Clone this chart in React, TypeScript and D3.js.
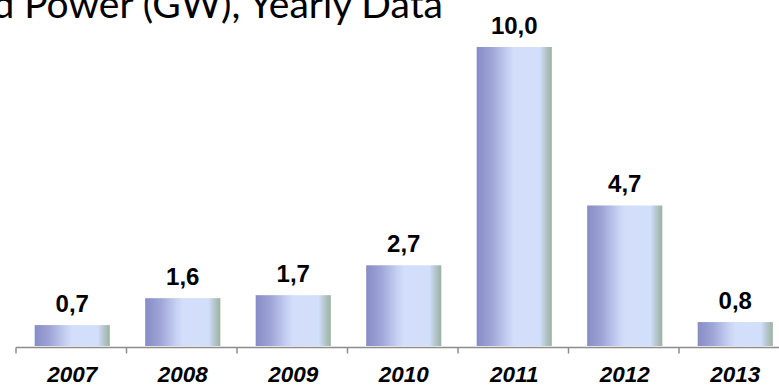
import React from "react";
import * as d3 from "d3";

// Yearly installed capacity (GW)
const years: string[] = ["2007", "2008", "2009", "2010", "2011", "2012", "2013"];
const capacityGW: number[] = [0.7, 1.6, 1.7, 2.7, 10.0, 4.7, 0.8];
const valueLabels: string[] = ["0,7", "1,6", "1,7", "2,7", "10,0", "4,7", "0,8"];
const titleText = "Installed Power (GW), Yearly Data";

const W = 779;
const H = 385;

export default function App() {
  const x = d3.scaleBand<string>().domain(years).range([16, 789.5]);
  const barX = d3
    .scaleBand<string>()
    .domain(years)
    .range([17, 790.5])
    .paddingInner(0.32)
    .paddingOuter(0.16);
  const y = d3.scaleLinear().domain([0, 10]).range([346, 47]);

  const axisY = 347.5;
  const ticks = [...years.map((yr) => x(yr) as number), x.range()[1]];

  return (
    <svg
      width={W}
      height={H}
      style={{ position: "absolute", left: 0, top: 0, background: "#fff" }}
    >
      <defs>
        <linearGradient id="barFill" x1="0" y1="0" x2="1" y2="0">
          <stop offset="0" stopColor="#878cc6" />
          <stop offset="0.2" stopColor="#9ea5d6" />
          <stop offset="0.42" stopColor="#c7d2f4" />
          <stop offset="0.5" stopColor="#d3defb" />
          <stop offset="0.84" stopColor="#d2dffb" />
          <stop offset="0.9" stopColor="#bccbd9" />
          <stop offset="1" stopColor="#9bb29f" />
        </linearGradient>
      </defs>

      <text
        x={443}
        y={17.5}
        textAnchor="end"
        fontFamily="Lato, 'Open Sans', sans-serif"
        fontSize={39}
        fill="#000"
      >
        {titleText}
      </text>

      {years.map((yr, i) => (
        <rect
          key={yr}
          x={barX(yr)}
          y={y(capacityGW[i])}
          width={barX.bandwidth()}
          height={y(0) - y(capacityGW[i])}
          fill="url(#barFill)"
        />
      ))}

      {years.map((yr, i) => (
        <text
          key={"v" + yr}
          x={(barX(yr) as number) + barX.bandwidth() / 2}
          y={y(capacityGW[i]) - 13}
          textAnchor="middle"
          fontFamily="'Liberation Sans', Arial, sans-serif"
          fontWeight="bold"
          fontSize={24}
          fill="#000"
        >
          {valueLabels[i]}
        </text>
      ))}

      <line x1={16} x2={W} y1={axisY} y2={axisY} stroke="#8c8c8c" strokeWidth={1.5} />
      {ticks.map((tx, i) => (
        <line
          key={"t" + i}
          x1={tx}
          x2={tx}
          y1={axisY}
          y2={axisY + 6}
          stroke="#8c8c8c"
          strokeWidth={1.5}
        />
      ))}

      {years.map((yr) => (
        <text
          key={"l" + yr}
          x={(x(yr) as number) + x.bandwidth() / 2 + 1}
          y={382}
          textAnchor="middle"
          fontFamily="'Liberation Sans', Arial, sans-serif"
          fontWeight="bold"
          fontStyle="italic"
          fontSize={22.5}
          fill="#000"
        >
          {yr}
        </text>
      ))}
    </svg>
  );
}
